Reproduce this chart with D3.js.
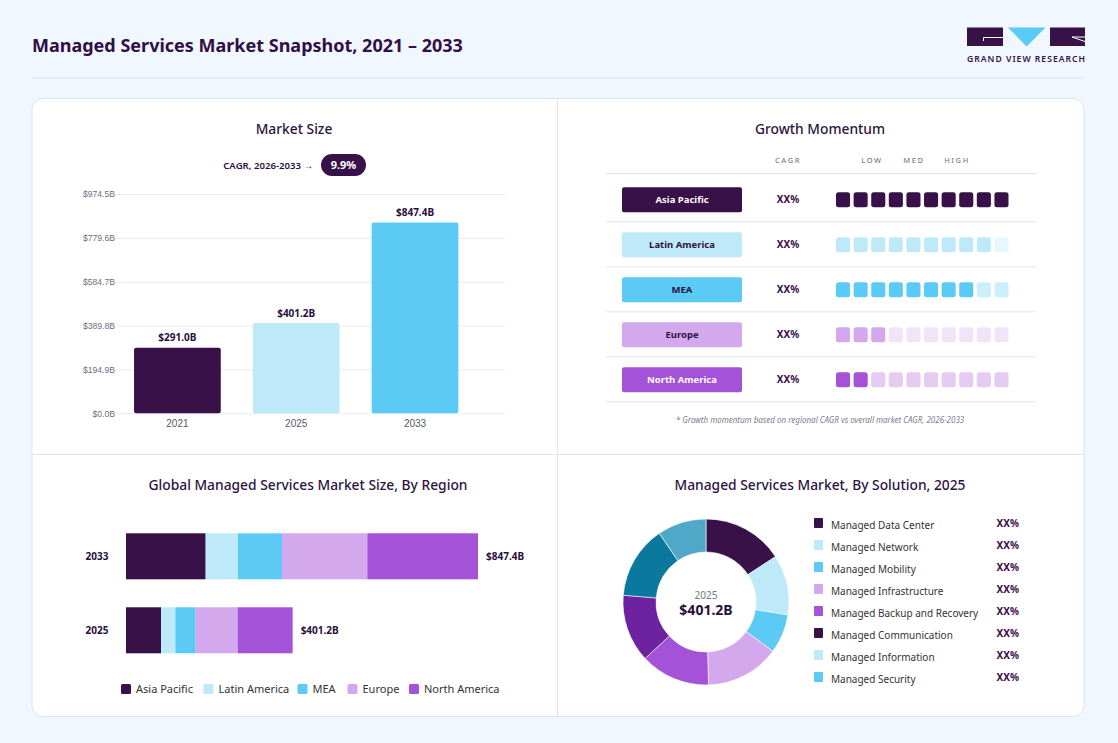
<!DOCTYPE html>
<html><head><meta charset="utf-8">
<script src="https://cdn.jsdelivr.net/npm/d3@7"></script>
<style>
body{margin:0;background:#f0f7fe;}
svg{display:block;font-family:"Noto Sans","Open Sans",sans-serif;}
</style></head><body><svg id="c" width="1118" height="743"></svg>
<script>
// ---------- DATA ----------
const years = ["2021", "2025", "2033"];
const marketSize = [291.0, 401.2, 847.4];
const sizeTicks = [0, 194.9, 389.8, 584.7, 779.6, 974.5];
const cagrText = "9.9%";
const regions = ["Asia Pacific", "Latin America", "MEA", "Europe", "North America"];
const momentumFilled = [10, 9, 8, 3, 2];
const momentumCagr = ["XX%", "XX%", "XX%", "XX%", "XX%"];
const regionYears = ["2033", "2025"];
const region2033 = [191.8, 77.8, 106.0, 205.4, 266.4];
const region2025 = [84.3, 34.5, 49.0, 101.1, 132.3];
const regionTotals = [847.4, 401.2];
const solutions = ["Managed Data Center", "Managed Network", "Managed Mobility", "Managed Infrastructure",
  "Managed Backup and Recovery", "Managed Communication", "Managed Information", "Managed Security"];
const solutionShares = [15.8, 11.7, 7.6, 14.4, 13.6, 13.2, 14.2, 9.5];
const solutionPct = ["XX%", "XX%", "XX%", "XX%", "XX%", "XX%", "XX%", "XX%"];
const donutYear = "2025";
const donutTotal = "$401.2B";

// ---------- STYLE ----------
const C = {dark:"#371148", title:"#2e1340", text:"#333", grid:"#e8ebf3", line:"#e1e5ee"};
const barColors = ["#371148", "#bde9f9", "#5bcaf5"];
const regionColors = ["#371148", "#bde9f9", "#5bcaf5", "#d4a8ec", "#a452d8"];
const regionDim = ["#371148", "#e8f6fd", "#cdeefb", "#f1e4f8", "#e3cbf3"];
const regionText = ["#fff", "#2e1340", "#2e1340", "#2e1340", "#fff"];
const solutionColors = ["#371148", "#bde9f9", "#5bcaf5", "#d4a8ec", "#a452d8", "#6d22a0", "#0b789e", "#4fa8c8"];
const solutionLegendColors = ["#371148", "#bde9f9", "#5bcaf5", "#d4a8ec", "#a452d8", "#371148", "#bde9f9", "#5bcaf5"];

const svg = d3.select("#c");

// Header
svg.append("text").attr("x", 32).attr("y", 52).attr("font-size", 18).attr("font-weight", 700)
  .attr("fill", "#300f45").text("Managed Services Market Snapshot, 2021 \u2013 2033");
svg.append("line").attr("x1", 32).attr("x2", 1084).attr("y1", 78).attr("y2", 78).attr("stroke", "#dfe6ef");

// Logo
const logo = svg.append("g");
logo.append("rect").attr("x", 967).attr("y", 27.5).attr("width", 36).attr("height", 18.5).attr("fill", "#371148");
logo.append("path").attr("d", "M1003 37.5 H983.5 V41").attr("stroke", "#fff").attr("stroke-width", 1).attr("fill", "none");
logo.append("path").attr("d", "M1008 27.5 H1045.5 L1026.7 46.5 Z").attr("fill", "#5bcaf5");
logo.append("rect").attr("x", 1050).attr("y", 27.5).attr("width", 35).attr("height", 18.5).attr("fill", "#371148");
logo.append("path").attr("d", "M1072 37 L1085 41.5 M1072 37 H1085").attr("stroke", "#fff").attr("stroke-width", 1).attr("fill", "none");
logo.append("text").attr("x", 967).attr("y", 62).attr("font-size", 8.6).attr("textLength", 118)
  .attr("font-weight", 600).attr("fill", "#371148").text("GRAND VIEW RESEARCH");

// Card
svg.append("rect").attr("x", 32).attr("y", 98.5).attr("width", 1052).attr("height", 618).attr("rx", 11)
  .attr("fill", "#fff").attr("stroke", "#dde3ec");
svg.append("line").attr("x1", 557.5).attr("x2", 557.5).attr("y1", 99).attr("y2", 716).attr("stroke", "#e1e5ee");
svg.append("line").attr("x1", 32).attr("x2", 1084).attr("y1", 454.5).attr("y2", 454.5).attr("stroke", "#e1e5ee");

function panelTitle(x, y, t) {
  svg.append("text").attr("x", x).attr("y", y).attr("text-anchor", "middle").attr("font-size", 13.8)
    .attr("font-weight", 500).attr("fill", C.title).text(t);
}
panelTitle(294, 134, "Market Size");
panelTitle(820, 134, "Growth Momentum");
panelTitle(308, 490, "Global Managed Services Market Size, By Region");
panelTitle(820, 490, "Managed Services Market, By Solution, 2025");

// ---------- Market size bars ----------
const x1 = d3.scaleBand().domain(years).range([118, 474.4]).paddingInner(0.27).paddingOuter(0.135);
const y1 = d3.scaleLinear().domain([0, 974.5]).range([413.3, 194]);
const ms = svg.append("g");
ms.selectAll("line.g").data(sizeTicks).join("line").attr("x1", 111).attr("x2", 505)
  .attr("y1", d => y1(d) + 0.5).attr("y2", d => y1(d) + 0.5).attr("stroke", C.grid);
const yAxis = d3.axisLeft(y1).tickValues(sizeTicks).tickSize(0).tickPadding(0).tickFormat(d => "$" + d.toFixed(1) + "B");
const ya = ms.append("g").attr("transform", "translate(115,0)").call(yAxis);
ya.select(".domain").remove();
ya.selectAll("text").attr("font-size", 8.6).attr("fill", "#6b6f80").attr("font-family", "inherit");
ms.selectAll("rect.b").data(marketSize).join("rect").attr("x", (d, i) => x1(years[i])).attr("width", x1.bandwidth())
  .attr("y", d => y1(d)).attr("height", d => y1(0) - y1(d)).attr("rx", 2).attr("fill", (d, i) => barColors[i]);
ms.selectAll("text.v").data(marketSize).join("text").attr("x", (d, i) => x1(years[i]) + x1.bandwidth() / 2)
  .attr("y", d => y1(d) - 6.5).attr("text-anchor", "middle").attr("font-size", 10).attr("font-weight", 700)
  .attr("fill", "#2a0f3c").text(d => "$" + d.toFixed(1) + "B");
const xa = ms.append("g").attr("transform", "translate(0,413.3)").call(d3.axisBottom(x1).tickSize(0).tickPadding(7));
xa.select(".domain").remove();
xa.selectAll("text").attr("font-size", 10).attr("fill", "#555a66").attr("font-family", "inherit");
// CAGR pill
svg.append("text").attr("x", 313).attr("y", 169).attr("text-anchor", "end").attr("font-size", 9.6)
  .attr("font-weight", 600).attr("fill", "#2a0f3c").text("CAGR, 2026-2033 \u2192");
svg.append("rect").attr("x", 321).attr("y", 154).attr("width", 45).attr("height", 22).attr("rx", 11).attr("fill", C.dark);
svg.append("text").attr("x", 343.5).attr("y", 169).attr("text-anchor", "middle").attr("font-size", 11)
  .attr("font-weight", 700).attr("fill", "#fff").text(cagrText);

// ---------- Growth momentum ----------
const gm = svg.append("g");
const hdr = [["CAGR", 788], ["LOW", 872], ["MED", 914], ["HIGH", 957]];
gm.selectAll("text.h").data(hdr).join("text").attr("x", d => d[1]).attr("y", 163).attr("text-anchor", "middle")
  .attr("font-size", 7.5).attr("letter-spacing", 1.6).attr("font-weight", 500).attr("fill", "#7b8092").text(d => d[0]);
const rowY = d3.scaleBand().domain(regions).range([177.3, 402.3]);
gm.append("line").attr("x1", 606).attr("x2", 1036).attr("y1", 173.5).attr("y2", 173.5).attr("stroke", "#e1e5ee");
gm.selectAll("line.r").data(regions).join("line").attr("x1", 606).attr("x2", 1036)
  .attr("y1", d => rowY(d) + rowY.bandwidth() - 0.5).attr("y2", d => rowY(d) + rowY.bandwidth() - 0.5).attr("stroke", "#e1e5ee");
const rows = gm.selectAll("g.row").data(regions).join("g").attr("transform", d => `translate(0,${rowY(d) + rowY.bandwidth() / 2})`);
rows.append("rect").attr("x", 622).attr("y", -12.5).attr("width", 120).attr("height", 25).attr("rx", 2)
  .attr("fill", (d, i) => regionColors[i]);
rows.append("text").attr("x", 682).attr("y", 3.5).attr("text-anchor", "middle").attr("font-size", 9.5)
  .attr("font-weight", 700).attr("fill", (d, i) => regionText[i]).text(d => d);
rows.append("text").attr("x", 788).attr("y", 3.5).attr("text-anchor", "middle").attr("font-size", 10)
  .attr("font-weight", 700).attr("fill", "#3b0f4d").text((d, i) => momentumCagr[i]);
const sq = d3.scaleBand().domain(d3.range(10)).range([836, 1008.5]).paddingInner(0.2);
rows.each(function (d, i) {
  d3.select(this).selectAll("rect.s").data(d3.range(10)).join("rect").attr("x", k => sq(k)).attr("y", -7.5)
    .attr("width", sq.bandwidth()).attr("height", 15).attr("rx", 2.5)
    .attr("fill", k => k < momentumFilled[i] ? regionColors[i] : regionDim[i]);
});
gm.append("text").attr("x", 820).attr("y", 423).attr("text-anchor", "middle").attr("font-size", 8)
  .attr("font-style", "italic").attr("fill", "#7b8092")
  .text("* Growth momentum based on regional CAGR vs overall market CAGR, 2026-2033");

// ---------- Region stacked bars ----------
const rg = svg.append("g");
const xr = d3.scaleLinear().domain([0, 847.4]).range([126, 478]);
const yr = d3.scaleBand().domain(regionYears).range([533.3, 653.3]).paddingInner(0.378).paddingOuter(0);
const stackData = [region2033, region2025].map((arr, j) => {
  const o = {year: regionYears[j]}; regions.forEach((r, i) => o[r] = arr[i]); return o;
});
const series = d3.stack().keys(regions)(stackData);
series.forEach((s, i) => {
  rg.selectAll(null).data(s).join("rect").attr("x", d => xr(d[0])).attr("width", d => xr(d[1]) - xr(d[0]))
    .attr("y", d => yr(d.data.year)).attr("height", yr.bandwidth()).attr("fill", regionColors[i]);
});
rg.selectAll("text.y").data(regionYears).join("text").attr("x", 97).attr("y", d => yr(d) + yr.bandwidth() / 2 + 3.5)
  .attr("text-anchor", "middle").attr("font-size", 10).attr("font-weight", 700).attr("fill", "#2a0f3c").text(d => d);
rg.selectAll("text.t").data(regionTotals).join("text").attr("x", d => xr(d) + 8).attr("y", (d, i) => yr(regionYears[i]) + yr.bandwidth() / 2 + 3.5)
  .attr("font-size", 10).attr("font-weight", 700).attr("fill", "#2a0f3c").text(d => "$" + d.toFixed(1) + "B");
const legX = [121, 203.5, 297.5, 347.5, 409];
const lg = rg.selectAll("g.l").data(regions).join("g").attr("transform", (d, i) => `translate(${legX[i]},684)`);
lg.append("rect").attr("width", 10).attr("height", 10).attr("rx", 1.5).attr("fill", (d, i) => regionColors[i]);
lg.append("text").attr("x", 15).attr("y", 9).attr("font-size", 11).attr("fill", C.text).text(d => d);

// ---------- Donut ----------
const dn = svg.append("g").attr("transform", "translate(706,602)");
const pie = d3.pie().sort(null).value(d => d);
const arc = d3.arc().innerRadius(50).outerRadius(83);
dn.selectAll("path").data(pie(solutionShares)).join("path").attr("d", arc)
  .attr("fill", (d, i) => solutionColors[i]).attr("stroke", "#fff").attr("stroke-width", 0.6);
dn.append("text").attr("y", -3).attr("text-anchor", "middle").attr("font-size", 10).attr("fill", "#777").text(donutYear);
dn.append("text").attr("y", 13).attr("text-anchor", "middle").attr("font-size", 14).attr("font-weight", 700)
  .attr("fill", "#2a0f3c").text(donutTotal);
const dl = svg.selectAll("g.dl").data(solutions).join("g").attr("transform", (d, i) => `translate(814,${518 + i * 22})`);
dl.append("rect").attr("width", 9).attr("height", 10).attr("rx", 1).attr("fill", (d, i) => solutionLegendColors[i]);
dl.append("text").attr("x", 17).attr("y", 11).attr("font-size", 10).attr("fill", C.text).text(d => d);
dl.append("text").attr("x", 1019).attr("y", 9).attr("transform", "translate(-814,0)").attr("text-anchor", "end")
  .attr("font-size", 10).attr("font-weight", 700).attr("fill", "#3b0f4d").text((d, i) => solutionPct[i]);
</script></body></html>
